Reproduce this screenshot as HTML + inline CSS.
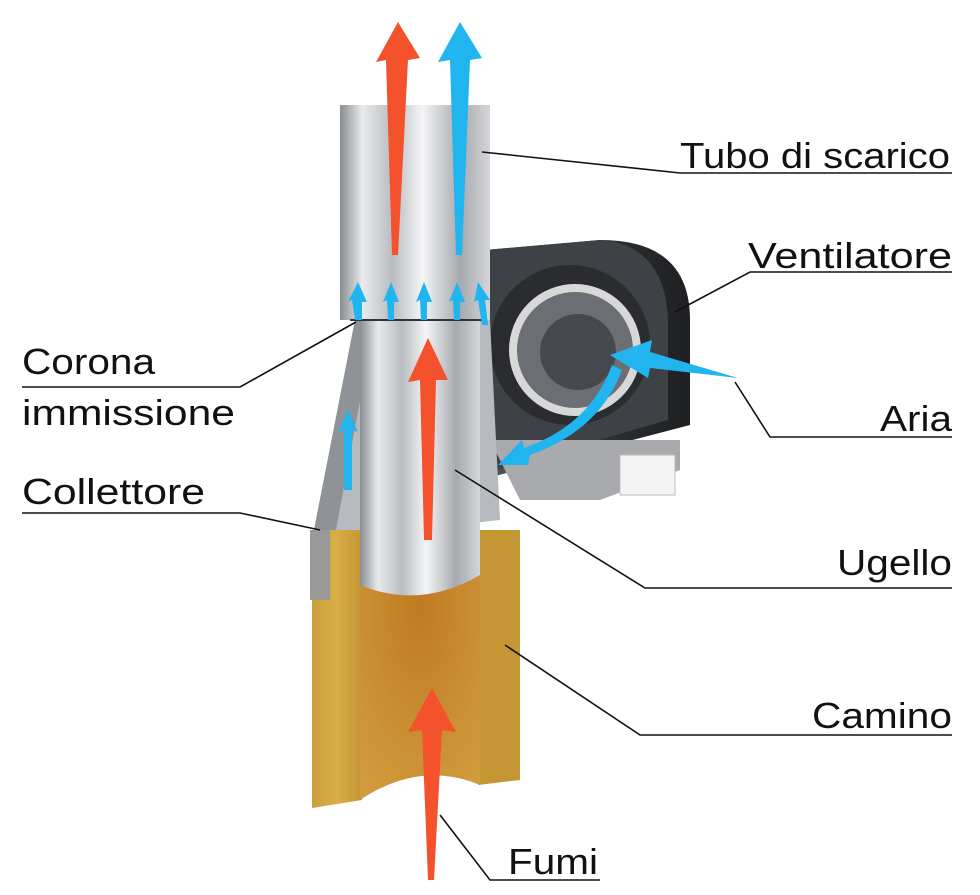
<!DOCTYPE html>
<html><head><meta charset="utf-8"><style>
html,body{margin:0;padding:0;background:#fff;}
svg{display:block}
text{font-family:"Liberation Sans",sans-serif;font-size:36px;fill:#111}
</style></head><body>
<svg width="980" height="895" viewBox="0 0 980 895" xmlns="http://www.w3.org/2000/svg">
<defs>
<linearGradient id="steel" x1="0" x2="1">
<stop offset="0" stop-color="#8a8d91"/><stop offset="0.15" stop-color="#e8eaec"/>
<stop offset="0.35" stop-color="#b9bcc0"/><stop offset="0.55" stop-color="#f4f5f6"/>
<stop offset="0.8" stop-color="#a6a9ad"/><stop offset="1" stop-color="#d4d6d9"/></linearGradient>
<linearGradient id="yel" x1="0" x2="1">
<stop offset="0" stop-color="#c9a03c"/><stop offset="0.5" stop-color="#d9ae45"/><stop offset="1" stop-color="#c39533"/></linearGradient>
<radialGradient id="inner" cx="0.5" cy="0.3" r="0.8">
<stop offset="0" stop-color="#c07a22"/><stop offset="1" stop-color="#d19c3e"/></radialGradient>
<linearGradient id="fan" x1="0" x2="1">
<stop offset="0" stop-color="#55585c"/><stop offset="0.6" stop-color="#2d2f32"/><stop offset="1" stop-color="#1e1f21"/></linearGradient>
</defs>

<path d="M485 250 L600 240 Q690 240 690 320 L690 425 L480 480 Z" fill="url(#fan)"/>
<path d="M485 250 L600 240 Q665 245 668 320 L668 420 L495 470 Z" fill="#3e4145"/>
<circle cx="570" cy="345" r="80" fill="#2a2c2f"/>
<circle cx="575" cy="350" r="62" fill="#6b6e72" stroke="#d8d8d8" stroke-width="8"/>
<circle cx="578" cy="352" r="38" fill="#45484c"/>
<path d="M490 440 L680 440 L680 470 L600 500 L520 500 Z" fill="#a8aaad"/>
<rect x="620" y="455" width="55" height="40" fill="#f4f4f4" stroke="#bbb"/>
<path d="M355 320 L490 320 L500 520 L312 540 Z" fill="#b7babe"/>
<path d="M355 320 L375 320 L335 535 L312 540 Z" fill="#8f9296"/>
<path d="M312 530 L362 530 L362 800 L312 808 Z" fill="url(#yel)"/>
<path d="M478 530 L520 530 L520 780 L478 785 Z" fill="#c49634"/>
<path d="M360 525 L480 525 L480 785 Q420 760 360 800 Z" fill="url(#inner)"/>
<path d="M310 530 L330 530 L330 600 L310 600 Z" fill="#999"/>
<path d="M360 320 L480 320 L480 575 Q420 610 360 585 Z" fill="url(#steel)"/>
<rect x="340" y="105" width="150" height="215" fill="url(#steel)"/>
<line x1="350" y1="320" x2="485" y2="320" stroke="#333" stroke-width="2"/>

<g fill="#f4522d">
<polygon points="392,255 386,60 376,62 398,22 420,58 408,60 398,255"/>
<polygon points="424,540 420,380 408,382 428,338 448,380 436,380 432,540"/>
<polygon points="428,880 422,730 408,732 432,688 456,732 442,730 434,880"/>
</g>
<g fill="#21b5f0">
<polygon points="456,255 450,60 438,62 460,22 482,58 470,60 462,255"/>
<polygon points="738,378 650,368 648,378 610,355 652,340 650,352"/>
<path d="M622 370 Q600 430 530 455 L528 465 L498 465 L522 440 L524 448 Q590 425 612 365 Z"/>
<polygon points="355,320 352,300 348,302 358,282 367,302 362,302 362,320"/>
<polygon points="388,320 387,300 383,302 391,282 399,302 394,302 394,320"/>
<polygon points="421,320 420,300 416,302 424,282 432,302 427,302 427,320"/>
<polygon points="454,320 453,300 449,302 457,282 465,302 460,302 460,320"/>
<polygon points="482,325 478,300 474,302 478,282 490,300 485,300 488,325"/>
<polygon points="344,490 344,430 338,432 348,410 358,432 352,430 352,490"/>
</g>

<g stroke="#111" stroke-width="1.6" fill="none">
<polyline points="482,152 680,173 952,173"/>
<polyline points="675,312 750,272 952,272"/>
<polyline points="356,322 240,387 22,387"/>
<polyline points="735,382 770,437 952,437"/>
<polyline points="320,530 240,513 22,513"/>
<polyline points="455,470 645,588 952,588"/>
<polyline points="505,645 640,735 952,735"/>
<polyline points="440,815 490,880 600,880"/>
</g>
<text x="950" y="168" text-anchor="end" textLength="270" lengthAdjust="spacingAndGlyphs">Tubo di scarico</text>
<text x="952" y="268" text-anchor="end" textLength="204" lengthAdjust="spacingAndGlyphs">Ventilatore</text>
<text x="22" y="374" textLength="133" lengthAdjust="spacingAndGlyphs">Corona</text>
<text x="22" y="425" textLength="213" lengthAdjust="spacingAndGlyphs">immissione</text>
<text x="952" y="431" text-anchor="end" textLength="72" lengthAdjust="spacingAndGlyphs">Aria</text>
<text x="22" y="504" textLength="183" lengthAdjust="spacingAndGlyphs">Collettore</text>
<text x="952" y="575" text-anchor="end" textLength="115" lengthAdjust="spacingAndGlyphs">Ugello</text>
<text x="952" y="728" text-anchor="end" textLength="140" lengthAdjust="spacingAndGlyphs">Camino</text>
<text x="508" y="874" textLength="90" lengthAdjust="spacingAndGlyphs">Fumi</text>
</svg>
</body></html>
